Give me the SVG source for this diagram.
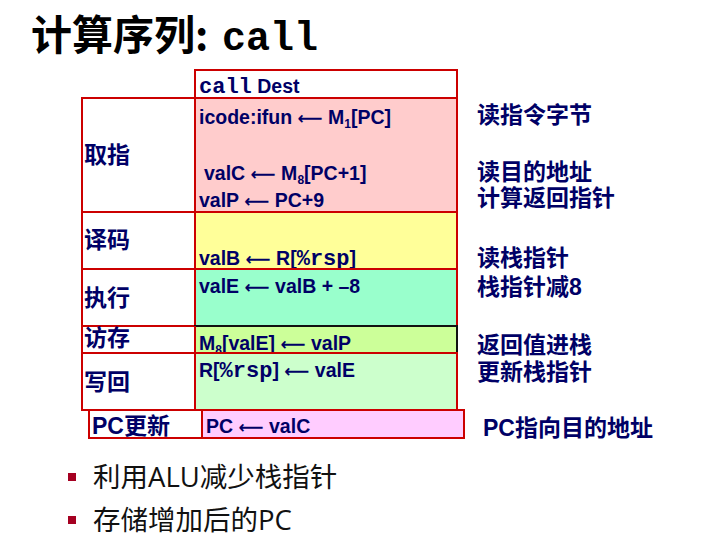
<svg xmlns="http://www.w3.org/2000/svg" width="727" height="547" viewBox="0 0 727 547">
  <style>
    .lat { font-family: "Liberation Sans", Arial, sans-serif; font-weight: bold; font-size: 19.5px; fill: #000066; }
    .mono { font-family: "Liberation Mono", "Courier New", monospace; font-weight: bold; font-size: 22px; }
    .arr { font-family: "DejaVu Sans", sans-serif; font-weight: bold; font-size: 17.5px; }
    .cjk { font-family: "Liberation Sans", "Noto Sans CJK SC", sans-serif; font-weight: bold; font-size: 23px; fill: #000066; }
    .sub { font-size: 12px; }
    .box { stroke: #CC0000; stroke-width: 2; }
    .title { font-family: "Noto Sans CJK SC", sans-serif; font-weight: bold; font-size: 41px; fill: #000000; }
    .tmono { font-family: "Liberation Mono", "Courier New", monospace; font-weight: bold; font-size: 40px; fill: #000000; }
    .bullet { font-family: "Open Sans", "Noto Sans CJK SC", sans-serif; font-size: 27.5px; fill: #111111; }
  </style>

  <!-- Title -->
  <text class="title" x="31" y="50">计算序列:</text>
  <text class="tmono" x="222" y="50">call</text>

  <!-- Instruction header -->
  <g id="header">
    <rect class="box" x="195" y="70" width="262" height="28" fill="#FFFFFF"/>
    <text class="lat" x="199" y="93"><tspan class="mono">call</tspan> Dest</text>
  </g>

  <!-- Fetch stage -->
  <g id="fetch">
    <rect class="box" x="82" y="98" width="113" height="114" fill="#FFFFFF"/>
    <rect class="box" x="195" y="98" width="262" height="114" fill="#FFCCCC"/>
    <text class="cjk" x="84" y="163">取指</text>
    <text class="lat" x="199" y="124">icode:ifun <tspan class="arr">⟵</tspan> M<tspan class="sub" dy="4">1</tspan><tspan dy="-4">[PC]</tspan></text>
    <text class="lat" x="204" y="180">valC <tspan class="arr">⟵</tspan> M<tspan class="sub" dy="4">8</tspan><tspan dy="-4">[PC+1]</tspan></text>
    <text class="lat" x="199" y="207">valP <tspan class="arr">⟵</tspan> PC+9</text>
    <text class="cjk" x="477" y="123">读指令字节</text>
    <text class="cjk" x="477" y="180">读目的地址</text>
    <text class="cjk" x="477" y="206">计算返回指针</text>
  </g>

  <!-- Decode stage -->
  <g id="decode">
    <rect class="box" x="82" y="212" width="113" height="57" fill="#FFFFFF"/>
    <rect class="box" x="195" y="212" width="262" height="57" fill="#FFFF99"/>
    <text class="cjk" x="84" y="248">译码</text>
    <text class="lat" x="199" y="265">valB <tspan class="arr">⟵</tspan> R[<tspan class="mono">%rsp</tspan>]</text>
    <text class="cjk" x="477" y="266">读栈指针</text>
  </g>

  <!-- Execute stage -->
  <g id="execute">
    <rect class="box" x="82" y="269" width="113" height="57" fill="#FFFFFF"/>
    <rect class="box" x="195" y="269" width="262" height="57" fill="#99FFCC"/>
    <text class="cjk" x="84" y="306">执行</text>
    <text class="lat" x="199" y="293">valE <tspan class="arr">⟵</tspan> valB + –8</text>
    <text class="cjk" x="477" y="295">栈指针减8</text>
  </g>

  <!-- Memory stage -->
  <g id="memory">
    <rect class="box" x="82" y="326" width="113" height="27" fill="#FFFFFF"/>
    <rect x="195" y="326" width="262" height="27" fill="#CCFF99" stroke="#111111" stroke-width="2"/>
    <line x1="195" y1="326" x2="195" y2="353" stroke="#CC0000" stroke-width="2"/>
    <text class="cjk" x="84" y="346">访存</text>
    <text class="lat" x="199" y="350">M<tspan class="sub" dy="4">8</tspan><tspan dy="-4">[valE] </tspan><tspan class="arr">⟵</tspan> valP</text>
    <text class="cjk" x="477" y="353">返回值进栈</text>
  </g>

  <!-- Write-back stage -->
  <g id="writeback">
    <rect class="box" x="82" y="353" width="113" height="57" fill="#FFFFFF"/>
    <rect class="box" x="195" y="353" width="262" height="57" fill="#CCFFCC"/>
    <text class="cjk" x="84" y="390">写回</text>
    <text class="lat" x="199" y="377">R[<tspan class="mono">%rsp</tspan>] <tspan class="arr">⟵</tspan> valE</text>
    <text class="cjk" x="477" y="380">更新栈指针</text>
  </g>

  <!-- PC update stage -->
  <g id="pcupdate">
    <rect class="box" x="89" y="410" width="113" height="28" fill="#FFFFFF"/>
    <rect class="box" x="202" y="410" width="262" height="28" fill="#FFCCFF"/>
    <text class="cjk" x="92" y="434">PC更新</text>
    <text class="lat" x="206" y="433">PC <tspan class="arr">⟵</tspan> valC</text>
    <text class="cjk" x="483" y="436">PC指向目的地址</text>
  </g>

  <!-- Notes -->
  <g id="notes">
    <rect x="68" y="473" width="8" height="8" fill="#A50021"/>
    <text class="bullet" x="93" y="487">利用ALU减少栈指针</text>
    <rect x="68" y="516" width="8" height="8" fill="#A50021"/>
    <text class="bullet" x="93" y="530">存储增加后的PC</text>
  </g>
</svg>
